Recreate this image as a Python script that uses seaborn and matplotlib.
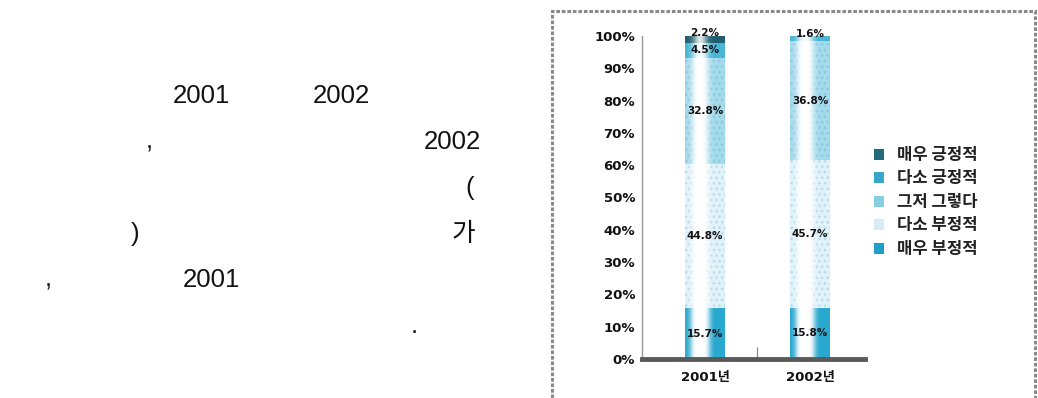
import numpy as np
import pandas as pd
import matplotlib
matplotlib.use("Agg")
import matplotlib.pyplot as plt
from matplotlib.patches import Patch, Rectangle
import seaborn as sns

# ---------------- data ----------------
years = ["2001년", "2002년"]
very_neg = [15.7, 15.8]   # 매우 부정적
some_neg = [44.8, 45.7]   # 다소 부정적
neutral = [32.8, 36.8]    # 그저 그렇다
some_pos = [4.5, 1.6]     # 다소 긍정적
very_pos = [2.2, 0.0]     # 매우 긍정적
series_names = ["매우 부정적", "다소 부정적", "그저 그렇다", "다소 긍정적", "매우 긍정적"]
y_ticks = list(range(0, 101, 10))
y_tick_labels = [f"{v}%" for v in y_ticks]

# left-hand paragraph fragments (text, line index)
para_frags = [("2001", 0), ("2002", 0), (",", 1), ("2002", 1), ("(", 2),
              (")", 3), ("가", 3), (",", 4), ("2001", 4), (".", 5)]

# ---------------- style ----------------
sns.set_theme(style="white")
plt.rcParams["font.family"] = ["DejaVu Sans", "Noto Sans CJK KR"]

W, H = 1038, 398
fig = plt.figure(figsize=(W / 100, H / 100), dpi=100)

def fx(px):
    return px / W

def fy(py):
    return 1 - py / H

# paragraph text on the left
para_x = [173, 313, 146, 424, 465, 131, 452, 45, 183, 411]
baselines = [103, 149, 195, 241, 287, 333]
for (txt, line), x in zip(para_frags, para_x):
    fig.text(fx(x), fy(baselines[line]), txt, fontsize=18.5, va="baseline", ha="left",
             family=["Liberation Sans", "Noto Sans CJK KR"], color="#111111")

# dotted frame around chart
frame = Rectangle((fx(552), fy(415)), fx(1035) - fx(552), fy(11) - fy(415),
                  transform=fig.transFigure, fill=False, edgecolor="#8a8a8a",
                  linewidth=2.2, linestyle=(0, (1.2, 0.6)), clip_on=False)
fig.patches.append(frame)

# axes
ax_left, ax_right, ax_top, ax_bot = 642, 865, 36, 359
ax = fig.add_axes([fx(ax_left), fy(ax_bot), fx(ax_right - ax_left), (ax_bot - ax_top) / H])

colors = {
    "매우 부정적": "#2aa9d0",
    "다소 부정적": "#dff3f9",
    "그저 그렇다": "#a4dbeb",
    "다소 긍정적": "#49b6d4",
    "매우 긍정적": "#215f70",
}
hatch_col = {
    "매우 부정적": None,
    "다소 부정적": "#b9d9f0",
    "그저 그렇다": "#8cc6e6",
    "다소 긍정적": None,
    "매우 긍정적": None,
}

layers = [very_neg, some_neg, neutral, some_pos, very_pos]
cum = np.cumsum(np.array(layers), axis=0)
df = pd.DataFrame({"year": years})
for name, c in zip(series_names, cum):
    df[name] = c

# draw from top layer (total) down to bottom so smaller cumulative bars sit in front
bar_w = 0.38
for name in reversed(series_names):
    n_before = len(ax.patches)
    sns.barplot(data=df, x="year", y=name, color=colors[name], saturation=1,
                width=bar_w, ax=ax, linewidth=0)
    if hatch_col[name]:
        for p in ax.patches[n_before:]:
            p.set_hatch("...")
            p.set_edgecolor(hatch_col[name])
            p.set_linewidth(0)

ax.set_xlim(-0.6, 1.524)
ax.set_ylim(0, 100)

# cylinder-like white highlight on bars
grad_t = np.linspace(0, 1, 200)
alpha = 0.85 * np.exp(-((grad_t - 0.38) / 0.17) ** 2)
rgba = np.zeros((1, 200, 4))
rgba[..., :3] = 1.0
rgba[0, :, 3] = alpha
for p in list(ax.patches):
    x0, y0 = p.get_x(), p.get_y()
    w, h = p.get_width(), p.get_height()
    if h <= 0:
        continue
    im = ax.imshow(rgba, extent=(x0, x0 + w, y0, y0 + h), aspect="auto",
                   zorder=p.get_zorder() + 0.01, interpolation="bilinear")
    im.set_clip_path(p)
ax.set_xlim(-0.6, 1.524)
ax.set_ylim(0, 100)

# segment value labels
for i, yr in enumerate(years):
    bottom = 0.0
    for name, vals in zip(series_names, layers):
        v = vals[i]
        if v >= 0.5:
            if v < 3 and bottom + v >= cum[-1][i] - 0.05:
                ypos = cum[-1][i] + 0.8
            else:
                ypos = bottom + v / 2
            ax.text(i, ypos, f"{v:.1f}%", ha="center", va="center", fontsize=7.5,
                    fontweight="bold", color="#111111", zorder=10)
        bottom += v

# axes styling
for s in ["top", "right"]:
    ax.spines[s].set_visible(False)
ax.spines["left"].set_color("#9a9a9a")
ax.spines["left"].set_linewidth(1.0)
ax.spines["left"].set_linestyle((0, (2, 1)))
ax.spines["bottom"].set_color("#5a5a5a")
ax.spines["bottom"].set_linewidth(3.5)
ax.spines["bottom"].set_zorder(20)

ax.set_yticks(y_ticks)
ax.set_yticklabels(y_tick_labels)
ax.tick_params(axis="y", direction="in", length=6, width=0.9, color="#8a8a8a",
               pad=5, labelsize=9.5)
for lab in ax.get_yticklabels():
    lab.set_fontweight("bold")
    lab.set_color("#111111")

ax.set_xticks([0, 1])
ax.set_xticklabels(years)
ax.tick_params(axis="x", length=0, pad=9, labelsize=9.5)
for lab in ax.get_xticklabels():
    lab.set_fontweight("bold")
    lab.set_color("#111111")
ax.set_xticks([0.5], minor=True)
ax.tick_params(axis="x", which="minor", direction="in", length=9, width=0.9,
               color="#8a8a8a", bottom=True)
ax.set_xlabel("")
ax.set_ylabel("")
ax.grid(False)

# legend
legend_colors = {
    "매우 긍정적": "#226a7c",
    "다소 긍정적": "#38a6c6",
    "그저 그렇다": "#86cde0",
    "다소 부정적": "#d3ecf5",
    "매우 부정적": "#1f9fc8",
}
handles = [Patch(facecolor=legend_colors[n], edgecolor="none", label=n)
           for n in reversed(series_names)]
leg = fig.legend(handles=handles, loc="upper left",
                 bbox_to_anchor=(fx(874), fy(146)), frameon=False,
                 handlelength=0.62, handleheight=0.62, handletextpad=0.75,
                 labelspacing=0.33, borderaxespad=0, borderpad=0,
                 prop={"family": ["Noto Sans CJK KR"], "size": 12, "weight": "bold"})
for t in leg.get_texts():
    t.set_color("#222222")

fig.savefig("out.png", dpi=100)
